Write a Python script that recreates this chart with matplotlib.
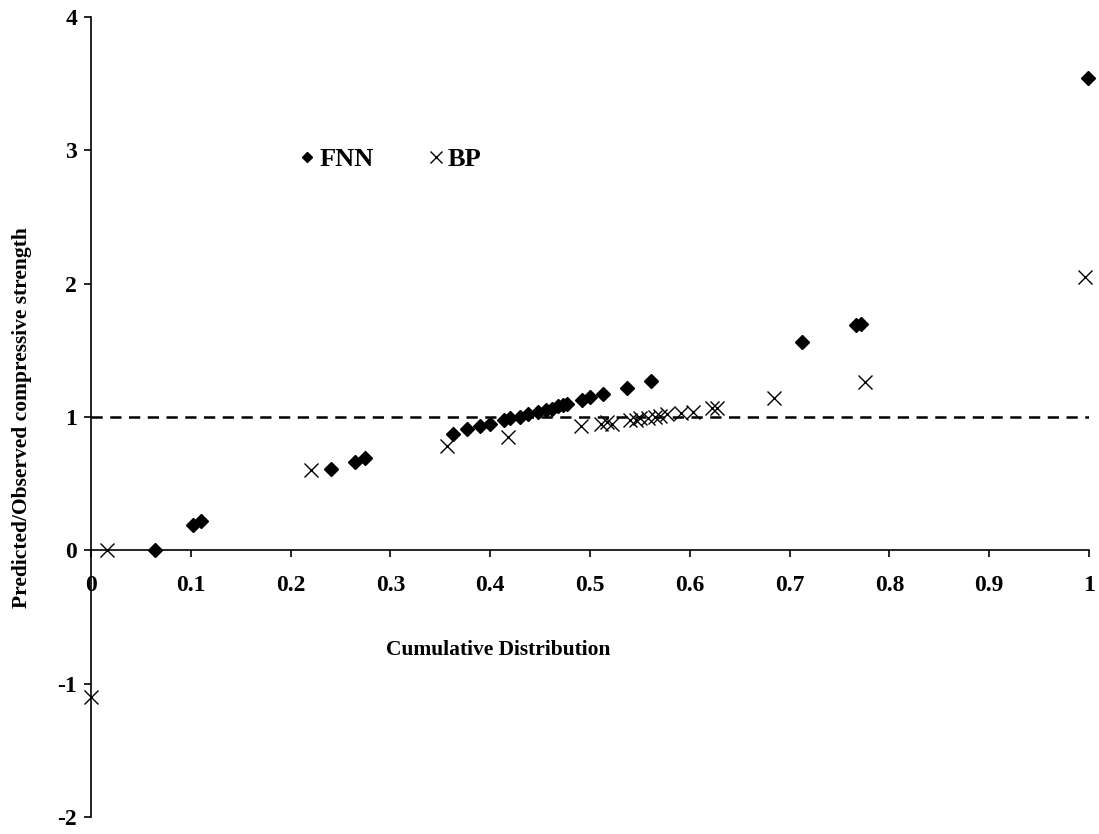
import numpy as np
import matplotlib.pyplot as plt
from matplotlib.lines import Line2D

plt.rcParams['font.family'] = 'Liberation Serif'
plt.rcParams['font.weight'] = 'bold'
plt.rcParams['axes.unicode_minus'] = False

# FNN ratios vs cumulative distribution
fnn_x = [0.064, 0.102, 0.110, 0.240, 0.265, 0.275, 0.363, 0.377, 0.390, 0.400,
         0.414, 0.420, 0.430, 0.438, 0.448, 0.456, 0.462, 0.468, 0.473, 0.477,
         0.492, 0.500, 0.513, 0.537, 0.561, 0.712, 0.767, 0.772, 0.999]
fnn_y = [0.00, 0.19, 0.22, 0.61, 0.66, 0.69, 0.87, 0.91, 0.93, 0.95,
         0.98, 0.99, 1.00, 1.02, 1.04, 1.05, 1.06, 1.08, 1.09, 1.10,
         1.13, 1.15, 1.17, 1.22, 1.27, 1.56, 1.69, 1.70, 3.54]

# BP ratios vs cumulative distribution
bp_x = [0.000, 0.016, 0.220, 0.357, 0.418, 0.491, 0.511, 0.517, 0.522, 0.540,
        0.546, 0.550, 0.558, 0.565, 0.570, 0.577, 0.591, 0.603, 0.622, 0.627,
        0.684, 0.776, 0.996]
bp_y = [-1.10, 0.00, 0.60, 0.78, 0.85, 0.93, 0.95, 0.96, 0.95, 0.98,
        0.98, 0.99, 0.99, 1.00, 1.01, 1.02, 1.03, 1.04, 1.07, 1.07,
        1.14, 1.26, 2.05]

fig = plt.figure(figsize=(10.99, 8.34), dpi=100)
ax = fig.add_axes([91/1099, 17/834, 998/1099, 800/834])

ax.plot(fnn_x, fnn_y, linestyle='none', marker='D', markersize=7.2,
        color='black', clip_on=False, zorder=3)
ax.plot(bp_x, bp_y, linestyle='none', marker='x', markersize=9.5,
        markeredgewidth=1.0, color='black', clip_on=False, zorder=3)
ax.plot([0, 1], [1, 1], color='black', linestyle=(0, (4.5, 3.0)), linewidth=1.8)

ax.set_xlim(0, 1)
ax.set_ylim(-2, 4)
ax.set_xticks(np.arange(0, 1.01, 0.1))
ax.set_xticklabels(['0', '0.1', '0.2', '0.3', '0.4', '0.5', '0.6', '0.7', '0.8', '0.9', '1'])
ax.set_yticks(range(-2, 5))

ax.spines['top'].set_visible(False)
ax.spines['right'].set_visible(False)
ax.spines['bottom'].set_position(('data', 0))
ax.spines['left'].set_linewidth(1.2)
ax.spines['bottom'].set_linewidth(1.2)
ax.tick_params(axis='both', direction='out', length=5, width=1.2, labelsize=17)
ax.tick_params(axis='y', pad=5)
ax.tick_params(axis='x', pad=13)
for lab in ax.get_xticklabels() + ax.get_yticklabels():
    lab.set_fontweight('bold')

ax.text(0.408, -0.75, 'Cumulative Distribution', ha='center', va='center',
        fontsize=15.5, fontweight='bold')
fig.text(22/1099, 1 - 418/834, 'Predicted/Observed compressive strength',
         rotation=90, ha='center', va='center', fontsize=15.5, fontweight='bold')

handles = [Line2D([], [], linestyle='none', marker='D', markersize=5.5, color='black'),
           Line2D([], [], linestyle='none', marker='x', markersize=8.5,
                  markeredgewidth=1.0, color='black')]
ax.legend(handles, ['FNN', 'BP'], ncol=2, frameon=False, loc='center left',
          bbox_to_anchor=(0.209, 2.93), bbox_transform=ax.transData,
          borderpad=0, borderaxespad=0,
          handlelength=0.6, handletextpad=0.15, columnspacing=2.05,
          prop={'size': 19, 'weight': 'bold'})

fig.savefig('out.png', dpi=100)
